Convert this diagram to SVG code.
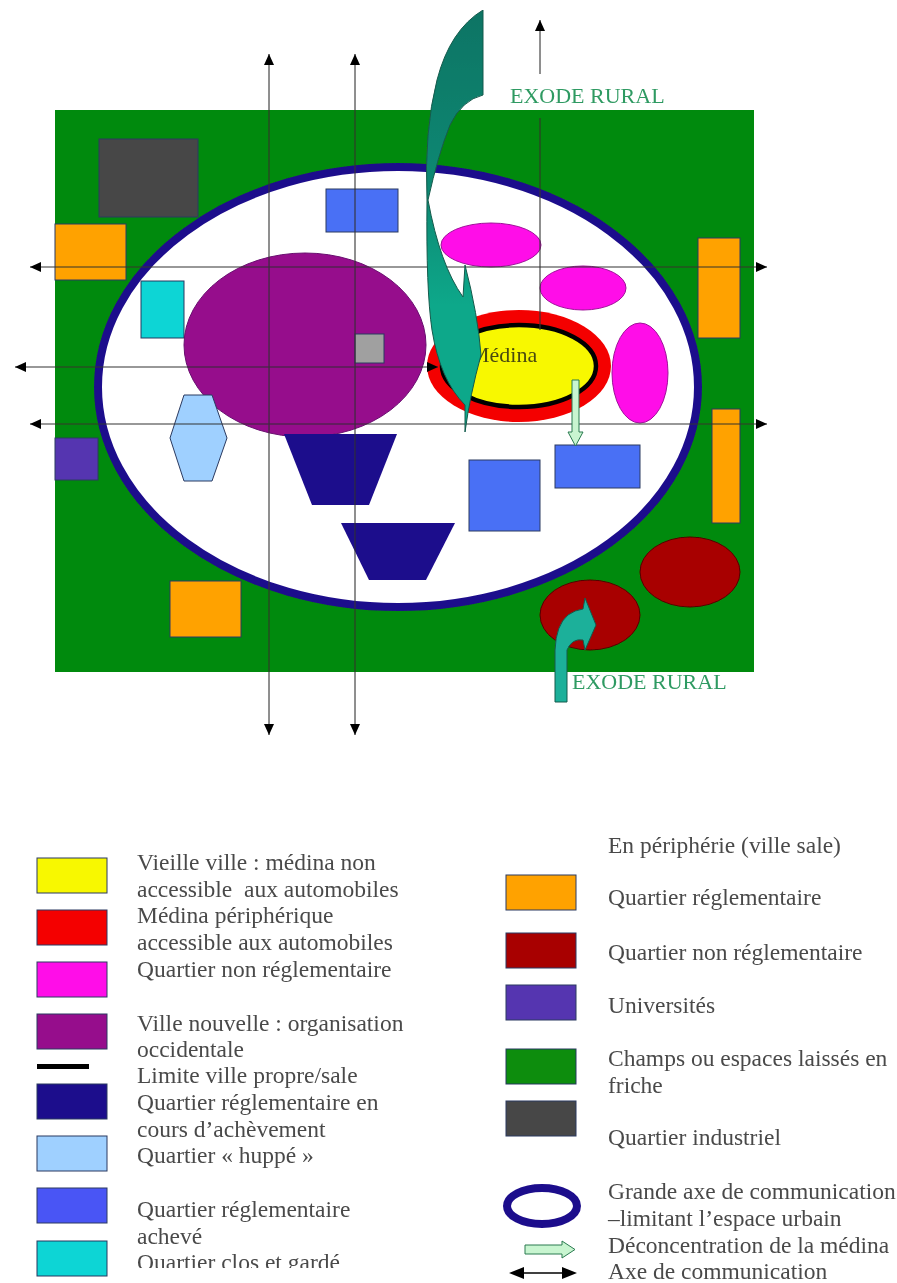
<svg xmlns="http://www.w3.org/2000/svg" width="897" height="1283" viewBox="0 0 897 1283">
<style>
text{font-family:"Liberation Serif","Times New Roman",serif;font-size:23.5px;fill:#4a4a4a;white-space:pre}
.ex{fill:#2f9a62;font-size:22px}
.s{stroke:#2b3a60;stroke-width:1}
.ax{stroke:#333;stroke-width:1.1;fill:none}
.blue{fill:#4a6ff5}.org{fill:#ffa200}.mag{fill:#ff10e8;stroke:#a0109a}.dred{fill:#a80000;stroke:#500}
.tl{stroke:#155a4c;stroke-width:1}
</style>
<defs>
<marker id="a" markerWidth="12" markerHeight="10" refX="11" refY="5" orient="auto-start-reverse" markerUnits="userSpaceOnUse"><path d="M0 0L11 5L0 10Z" fill="#000"/></marker>
<clipPath id="cut"><rect x="0" y="0" width="897" height="1268"/></clipPath>
<linearGradient id="g" x1="0" y1="0" x2="0" y2="1"><stop offset="0" stop-color="#0f7464"/><stop offset=".45" stop-color="#0f8a74"/><stop offset=".7" stop-color="#0fa88a"/><stop offset="1" stop-color="#0fa88a"/></linearGradient>
<filter id="soft" x="0" y="0" width="1" height="1"><feGaussianBlur stdDeviation="0.55"/></filter>
</defs>
<rect width="897" height="1283" fill="#fff"/>
<g filter="url(#soft)">
<g id="champs"><rect x="55" y="110" width="699" height="562" fill="#068a08"/></g>
<g id="boulevard"><ellipse cx="398" cy="387" rx="300" ry="220" fill="#fff" stroke="#1f0f8c" stroke-width="8"/></g>
<g id="industriel"><rect class="s" x="99" y="139" width="99" height="78" fill="#474747"/></g>
<g id="reg-p1"><rect class="s org" x="55" y="224" width="71" height="56"/></g>
<g id="reg-p2"><rect class="s org" x="698" y="238" width="42" height="100"/></g>
<g id="reg-p3"><rect class="s org" x="712" y="409" width="28" height="114"/></g>
<g id="reg-p4"><rect class="s org" x="170" y="581" width="71" height="56"/></g>
<g id="clos"><rect class="s" x="141" y="281" width="43" height="57" fill="#08d5d5"/></g>
<g id="universite"><rect class="s" x="55" y="438" width="43" height="42" fill="#5436b0"/></g>
<g id="nouvelle"><ellipse cx="305" cy="345" rx="121" ry="92" fill="#960a8c" stroke="#6a1070"/></g>
<g id="huppe"><path class="s" d="M184 395H212L227 438L212 481H184L170 438Z" fill="#9fd0ff"/></g>
<g id="acheve1"><rect class="s blue" x="326" y="189" width="72" height="43"/></g>
<g id="acheve2"><rect class="s blue" x="469" y="460" width="71" height="71"/></g>
<g id="acheve3"><rect class="s blue" x="555" y="445" width="85" height="43"/></g>
<g id="encours1"><path d="M284 434H397L369 505H312Z" fill="#1c0a8c"/></g>
<g id="encours2"><path d="M341 523H455L426 580H369Z" fill="#1c0a8c"/></g>
<g id="nonreg1"><ellipse class="mag" cx="491" cy="245" rx="50" ry="22"/></g>
<g id="nonreg2"><ellipse class="mag" cx="583" cy="288" rx="43" ry="22"/></g>
<g id="nonreg3"><ellipse class="mag" cx="640" cy="373" rx="28" ry="50"/></g>
<g id="medina-peri"><ellipse cx="519" cy="366" rx="92" ry="56" fill="#f40000"/></g>
<g id="medina"><ellipse cx="519" cy="366" rx="77" ry="41" fill="#f8f800" stroke="#000" stroke-width="4.5"/><text x="470" y="362" style="font-size:22px;fill:#4a4a10">Médina</text></g>
<g id="depot"><ellipse class="dred" cx="590" cy="615" rx="50" ry="35"/><ellipse class="dred" cx="690" cy="572" rx="50" ry="35"/></g>
<g id="labo"><rect class="s" x="355" y="334" width="29" height="29" fill="#a0a0a0"/></g>
<g id="connectors">
<path class="ax" marker-start="url(#a)" marker-end="url(#a)" d="M30 267H767"/>
<path class="ax" marker-start="url(#a)" marker-end="url(#a)" d="M15 367H438"/>
<path class="ax" marker-start="url(#a)" marker-end="url(#a)" d="M30 424H767"/>
<path class="ax" marker-start="url(#a)" marker-end="url(#a)" d="M269 54V735"/>
<path class="ax" marker-start="url(#a)" marker-end="url(#a)" d="M355 54V735"/>
<path class="ax" d="M540 118V330"/>
<path class="ax" marker-end="url(#a)" d="M540 74V20"/>
<path d="M572 380H579V432H583L575.500 446L568 432H572Z" fill="#c8f5d0" stroke="#2a7a50"/>
<path class="tl" fill="url(#g)" d="M483 10V95Q462 100 450 125Q438 155 428 200Q440 265 463 297L465 265Q478 315 481 355Q470 395 465 432V405Q440 380 432 330Q426 290 427 200Q424 130 437 80Q450 30 483 10Z"/>
<path class="tl" style="fill:#1fb09a" d="M555 702V650Q556 625 568 615Q575 610 583 609L585 598L596 625L585 650L583 640Q572 638 567 650V702Z"/>
</g>
<text class="ex" x="510" y="103">EXODE RURAL</text>
<text class="ex" x="572" y="689">EXODE RURAL</text>
<g id="legend-left">
<rect class="s" x="37" y="858" width="70" height="35" fill="#f8f800"/>
<rect class="s" x="37" y="910" width="70" height="35" fill="#f40000"/>
<rect class="s" x="37" y="962" width="70" height="35" fill="#ff10e8"/>
<rect class="s" x="37" y="1014" width="70" height="35" fill="#960a8c"/>
<rect x="37" y="1064" width="52" height="5" fill="#000"/>
<rect class="s" x="37" y="1084" width="70" height="35" fill="#1c0a8c"/>
<rect class="s" x="37" y="1136" width="70" height="35" fill="#9fd0ff"/>
<rect class="s" x="37" y="1188" width="70" height="35" fill="#4a55f5"/>
<rect class="s" x="37" y="1241" width="70" height="35" fill="#08d5d5"/>
<text x="137" y="870">Vieille ville : médina non</text>
<text x="137" y="897">accessible  aux automobiles</text>
<text x="137" y="923">Médina périphérique</text>
<text x="137" y="950">accessible aux automobiles</text>
<text x="137" y="977">Quartier non réglementaire</text>
<text x="137" y="1031">Ville nouvelle : organisation</text>
<text x="137" y="1057">occidentale</text>
<text x="137" y="1083">Limite ville propre/sale</text>
<text x="137" y="1110">Quartier réglementaire en</text>
<text x="137" y="1137">cours d’achèvement</text>
<text x="137" y="1163">Quartier « huppé »</text>
<text x="137" y="1217">Quartier réglementaire</text>
<text x="137" y="1244">achevé</text>
<text x="137" y="1270" clip-path="url(#cut)">Quartier clos et gardé</text>
</g>
<g id="legend-right">
<rect class="s" x="506" y="875" width="70" height="35" fill="#ffa200"/>
<rect class="s" x="506" y="933" width="70" height="35" fill="#a80000"/>
<rect class="s" x="506" y="985" width="70" height="35" fill="#5436b0"/>
<rect class="s" x="506" y="1049" width="70" height="35" fill="#078d0b"/>
<rect class="s" x="506" y="1101" width="70" height="35" fill="#474747"/>
<ellipse cx="542" cy="1206" rx="35" ry="18" fill="#fff" stroke="#1f0f8c" stroke-width="8"/>
<path d="M525 1245H562V1241L575 1249.500L562 1258V1254H525Z" fill="#c8f5d0" stroke="#2a7a50"/>
<path d="M512 1273H566" stroke="#000" stroke-width="1.300"/>
<path d="M509 1273L524 1267V1279ZM577 1273L562 1267V1279Z" fill="#000"/>
<text x="608" y="853">En périphérie (ville sale)</text>
<text x="608" y="905">Quartier réglementaire</text>
<text x="608" y="960">Quartier non réglementaire</text>
<text x="608" y="1013">Universités</text>
<text x="608" y="1066">Champs ou espaces laissés en</text>
<text x="608" y="1093">friche</text>
<text x="608" y="1145">Quartier industriel</text>
<text x="608" y="1199">Grande axe de communication</text>
<text x="608" y="1226">–limitant l’espace urbain</text>
<text x="608" y="1253">Déconcentration de la médina</text>
<text x="608" y="1279">Axe de communication</text>
</g>
</g>
</svg>
